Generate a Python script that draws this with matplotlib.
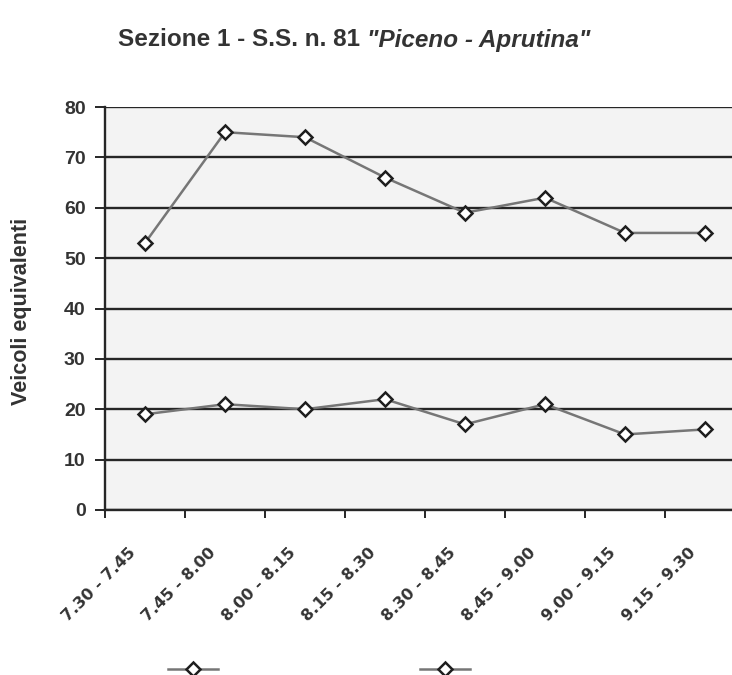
import matplotlib
matplotlib.use("Agg")
import matplotlib.pyplot as plt
import matplotlib.transforms as mtransforms
from matplotlib.lines import Line2D

# Time slots and equivalent-vehicle counts for the two directions
fasce = ["7.30 - 7.45", "7.45 - 8.00", "8.00 - 8.15", "8.15 - 8.30",
         "8.30 - 8.45", "8.45 - 9.00", "9.00 - 9.15", "9.15 - 9.30"]
serie_alta = [53, 75, 74, 66, 59, 62, 55, 55]
serie_bassa = [19, 21, 20, 22, 17, 21, 15, 16]
y_ticks = [0, 10, 20, 30, 40, 50, 60, 70, 80]

W, H = 732, 675
fig = plt.figure(figsize=(W / 100, H / 100), dpi=100)

# plot area (extends past the right edge of the figure)
left, right, top, bottom = 105, 745, 107, 510
ax = fig.add_axes([left / W, 1 - bottom / H, (right - left) / W, (bottom - top) / H])
ax.set_facecolor("#f3f3f3")

x = list(range(len(fasce)))
line_col = "#767676"
for vals in (serie_alta, serie_bassa):
    ax.plot(x, vals, color=line_col, lw=1.8, marker="D", ms=7.5,
            mfc="white", mec="#1e1e1e", mew=1.8, zorder=3)

ax.set_xlim(-0.5, len(fasce) - 0.5)
ax.set_ylim(0, 80)
ax.set_yticks(y_ticks)
ax.yaxis.grid(True, color="#262626", lw=1.7)
ax.set_axisbelow(True)

for s in ("top", "right"):
    ax.spines[s].set_visible(False)
for s in ("left", "bottom"):
    ax.spines[s].set_color("#262626")
    ax.spines[s].set_linewidth(1.7)

ax.tick_params(axis="y", length=7, width=1.4, color="#262626", pad=7,
               labelsize=14, labelcolor="#333333")
for t in ax.get_yticklabels():
    t.set_fontweight("bold")
    t.set_family("Liberation Sans")

# category boundaries carry the ticks; labels sit under category centres
ax.set_xticks([i - 0.5 for i in x])
ax.set_xticklabels([])
ax.tick_params(axis="x", length=6, width=1.4, color="#262626")

off = mtransforms.ScaledTranslation(-12 / 100, -40 / 100, fig.dpi_scale_trans)
for i, lab in zip(x, fasce):
    ax.text(i, 0, lab, rotation=45, rotation_mode="anchor", ha="right", va="center",
            fontsize=11.5, fontweight="bold", color="#333333",
            transform=ax.get_xaxis_transform() + off, clip_on=False)

fig.text(22 / W, 1 - 311 / H, "Veicoli equivalenti", rotation=90, ha="center", va="center",
         fontsize=15.5, fontweight="bold", color="#333333", family="Liberation Sans")

# title: plain part and italic road name
title_font = "Liberation Sans"
t1 = fig.text(118 / W, 1 - 40 / H, "Sezione 1 - S.S. n. 81 ", ha="left", va="center",
              fontsize=17.5, fontweight="bold", color="#333333", family=title_font)
fig.canvas.draw()
bb = t1.get_window_extent()
fig.text(bb.x1 / W, 1 - 40 / H, "\"Piceno - Aprutina\"", ha="left", va="center",
         fontsize=17.5, fontweight="bold", style="italic", color="#333333", family=title_font)

# legend symbols along the bottom
for xc in (193, 445):
    fig.add_artist(Line2D([(xc - 25) / W, (xc + 25) / W], [1 - 669 / H] * 2,
                          color=line_col, lw=1.8))
    fig.add_artist(Line2D([xc / W], [1 - 669 / H], marker="D", ms=7.5,
                          mfc="white", mec="#1e1e1e", mew=1.8, lw=0))

fig.savefig("out.png", dpi=100, facecolor="white")
